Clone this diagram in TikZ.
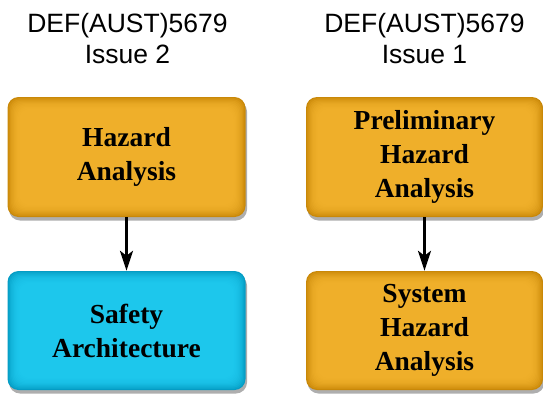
\documentclass[tikz,border=0pt]{standalone}
\usepackage{fontspec}
\setmainfont{Liberation Serif}
\newfontfamily\headfont{Liberation Sans}
\usepackage{xcolor}
\usepackage{tikz}
\usetikzlibrary{arrows.meta,calc,shadows}
\definecolor{ambEdge}{HTML}{C98808}
\definecolor{ambFace}{HTML}{F6B630}
\definecolor{cyEdge}{HTML}{049CC4}
\definecolor{cyFace}{HTML}{22CEF3}
\tikzset{
    tile/.style 2 args={rounded corners=11pt, fill=#1, minimum width=238pt, minimum height=120pt,
      align=center, inner sep=0pt, font=\fontsize{27.5}{34}\selectfont\bfseries,
      drop shadow={shadow xshift=1.5pt, shadow yshift=-3.5pt, opacity=.45, fill=black!70},
      path picture={\foreach \k in {1,...,10}{
        \fill[#2, opacity=.2, rounded corners=10pt]
          ($(path picture bounding box.south west)+(\k*1.2pt,\k*1.2pt)$) rectangle
          ($(path picture bounding box.north east)-(\k*1.2pt,\k*1.2pt)$);}}},
    head/.style={anchor=base, font=\headfont\fontsize{26.5}{31}\selectfont},
    arr/.style={-{Stealth[length=20pt,width=13pt,inset=5pt]}, line width=2.8pt}}

\begin{document}
\begin{tikzpicture}[x=1pt,y=-1pt]
\useasboundingbox (0,0) rectangle (543,394);

% headings
\node[head] (h2a) at (127.5,32) {DEF(AUST)5679};
\node[head] (h2b) at (127.5,63) {Issue 2};
\node[head] (h1a) at (424.5,32) {DEF(AUST)5679};
\node[head] (h1b) at (424.5,63) {Issue 1};

% issue 2
\node[tile={ambEdge}{ambFace}] (ha) at (126.5,157) {Hazard\\Analysis};
\node[tile={cyEdge}{cyFace}, minimum height=119pt] (sa) at (126.5,330.5) {Safety\\Architecture};

% issue 1
\node[tile={ambEdge}{ambFace}, minimum width=237pt] (pha) at (424.5,157) {Preliminary\\Hazard\\Analysis};
\node[tile={ambEdge}{ambFace}, minimum width=237pt, minimum height=119pt] (sha) at (424.5,330.5) {System\\Hazard\\Analysis};

\draw [arr] (ha) -- (sa);
\draw [arr] (pha) -- (sha);
\end{tikzpicture}
\end{document}
